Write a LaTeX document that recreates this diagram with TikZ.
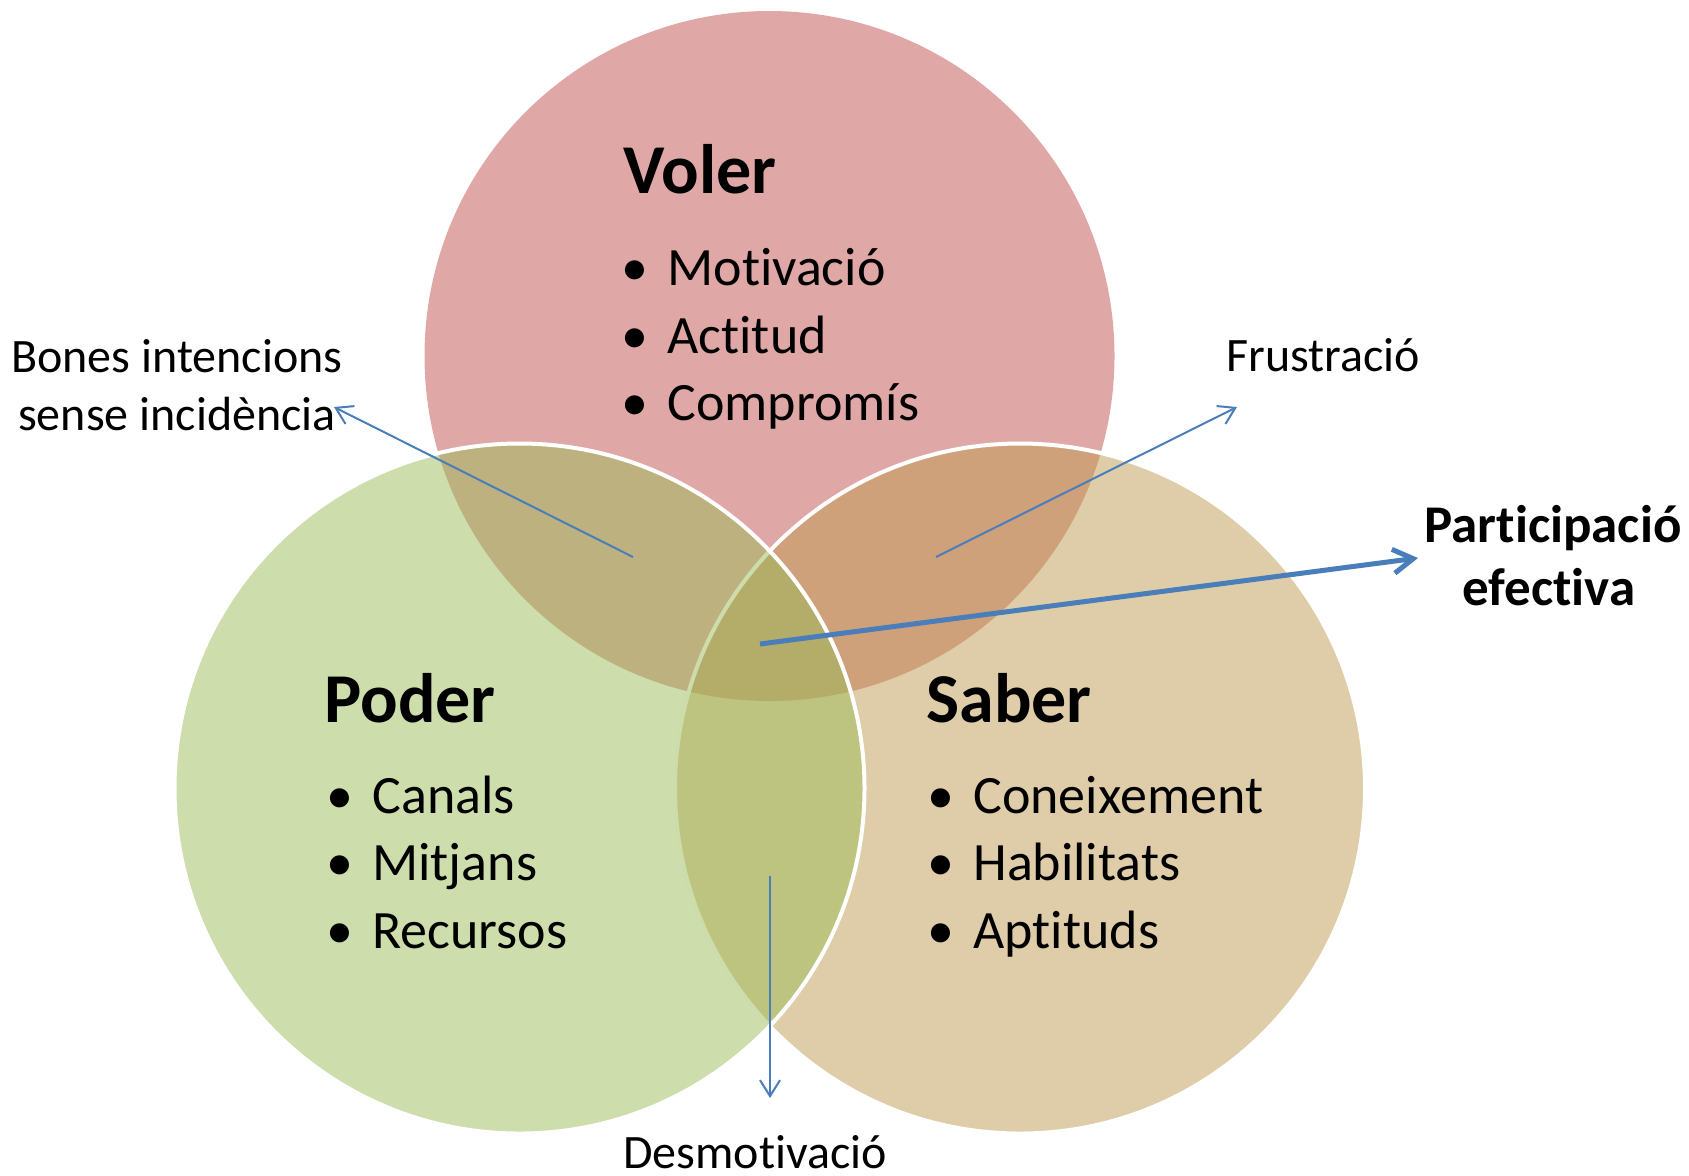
\documentclass[tikz,border=0pt]{standalone}
\usepackage{fontspec}
\setmainfont{Carlito}[RawFeature={-liga;-clig;-dlig;-calt}]
\usetikzlibrary{arrows.meta}
\definecolor{vred}{HTML}{C0504D}
\definecolor{vgreen}{HTML}{9BBB59}
\definecolor{vtan}{HTML}{BD9B51}
\definecolor{arrowblue}{HTML}{4A7EBB}
\newcommand{\bul}{\makebox[0pt]{•}\hspace{16pt}}
\begin{document}
\begin{tikzpicture}[x=0.5pt,y=-0.5pt,
  titletext/.style={anchor=base west, inner sep=0pt, font=\fontsize{35pt}{38pt}\selectfont\bfseries},
  itemtext/.style={anchor=base west, inner sep=0pt, font=\fontsize{27pt}{30pt}\selectfont},
  lbl/.style={anchor=base, inner sep=0pt, font=\fontsize{24pt}{27pt}\selectfont},
  lblbold/.style={anchor=base, inner sep=0pt, font=\fontsize{26.5pt}{30pt}\selectfont\bfseries},
  thinarrow/.style={draw=arrowblue, line width=1pt, -{Straight Barb[length=8pt,width=10pt]}},
  thickarrow/.style={draw=arrowblue, line width=2.5pt, -{Straight Barb[length=10pt,width=12pt]}},
  ]
\useasboundingbox (0,0) rectangle (1689,1175);
% circles: top, right, left
\fill[vred, fill opacity=0.5] (769.5,356) circle[radius=172.5pt];
\fill[vtan, fill opacity=0.5] (1020,788.5) circle[radius=172.5pt];
\draw[white, line width=2pt] (1020,788.5) circle[radius=172.5pt];
\fill[vgreen, fill opacity=0.5] (519.5,788.5) circle[radius=172.5pt];
\draw[white, line width=2pt] (519.5,788.5) circle[radius=172.5pt];
% Voler
\node[titletext] (voler) at (623,193) {Voler};
\node[itemtext] (v1) at (635,285) {\bul Motivació};
\node[itemtext] (v2) at (635,353) {\bul Actitud};
\node[itemtext] (v3) at (635,420) {\bul Compromís};
% Poder
\node[titletext] (poder) at (324,722) {Poder};
\node[itemtext] (p1) at (340,813) {\bul Canals};
\node[itemtext] (p2) at (340,880) {\bul Mitjans};
\node[itemtext] (p3) at (340,948) {\bul Recursos};
% Saber
\node[titletext] (saber) at (926,722) {Saber};
\node[itemtext] (s1) at (941,813) {\bul Coneixement};
\node[itemtext] (s2) at (941,880) {\bul Habilitats};
\node[itemtext] (s3) at (941,948) {\bul Aptituds};
% labels
\node[lbl] (bones1) at (177,372) {Bones intencions};
\node[lbl] (bones2) at (177,430) {sense incidència};
\node[lbl, anchor=base west] (frus) at (1226,371) {Frustració};
\node[lblbold] (part1) at (1553,542) {Participació};
\node[lblbold] (part2) at (1549,605) {efectiva};
\node[lbl, text depth=0pt] (desm) at (755,1168) {Desmotivació};
% arrows
\coordinate (b0) at (633,557); \coordinate (b1) at (334,407);
\coordinate (f0) at (936,557); \coordinate (f1) at (1237,407);
\coordinate (e0) at (760,644); \coordinate (e1) at (1418,558);
\coordinate (d0) at (770,876); \coordinate (d1) at (770,1098);
\draw[thinarrow] (b0) -- (b1);
\draw[thinarrow] (f0) -- (f1);
\draw[thinarrow] (d0) -- (d1);
\draw[thickarrow] (e0) -- (e1);
\end{tikzpicture}
\end{document}
